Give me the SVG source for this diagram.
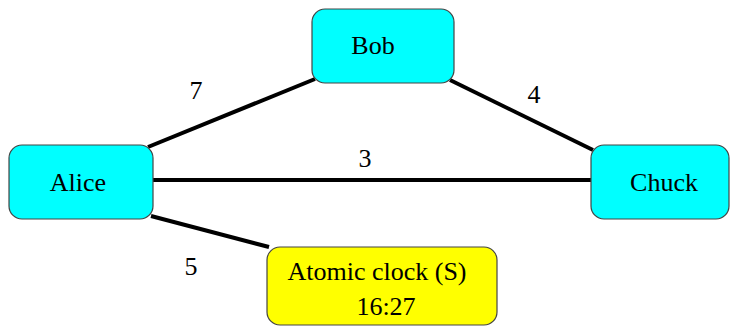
<svg xmlns="http://www.w3.org/2000/svg" width="731" height="326" viewBox="0 0 731 326">
<style>
.box{stroke:#444;stroke-width:1.2}
.cyan{fill:#00ffff}
.yellow{fill:#ffff00}
.t{font-family:"Liberation Serif","Times New Roman",serif;font-size:26px;fill:#000;text-anchor:middle}
.edge{stroke:#000;stroke-width:4;fill:none}
</style>
<rect width="731" height="326" fill="#fff"/>
<g id="connectors">
<line class="edge" x1="148" y1="147" x2="315" y2="79"/>
<line class="edge" x1="450" y1="80" x2="593" y2="150"/>
<line class="edge" x1="153" y1="180" x2="591" y2="180"/>
<line class="edge" x1="151" y1="216" x2="269" y2="247"/>
<text class="t" x="196" y="99">7</text>
<text class="t" x="534" y="103">4</text>
<text class="t" x="365" y="167">3</text>
<text class="t" x="191" y="275">5</text>
</g>
<g id="bob">
<rect class="box cyan" x="312" y="9" width="142" height="74" rx="13"/>
<text class="t" x="373" y="54">Bob</text>
</g>
<g id="alice">
<rect class="box cyan" x="9" y="145" width="144" height="74" rx="13"/>
<text class="t" x="78" y="191">Alice</text>
</g>
<g id="chuck">
<rect class="box cyan" x="591" y="145" width="138" height="74" rx="13"/>
<text class="t" x="664" y="191">Chuck</text>
</g>
<g id="atomic">
<rect class="box yellow" x="267" y="247" width="230" height="78" rx="13"/>
<text class="t" x="377" y="280">Atomic clock (S)</text>
<text class="t" x="386" y="315">16:27</text>
</g>
</svg>
